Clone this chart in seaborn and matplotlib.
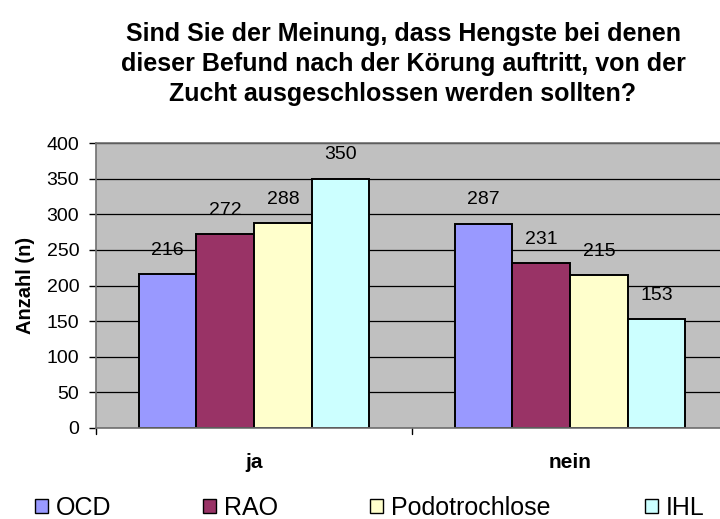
"""
Balkendiagramm: Ausschluss von Hengsten nach Befund (ja / nein).
"""

import matplotlib
matplotlib.use('Agg')
import matplotlib.pyplot as plt
import pandas as pd
import seaborn as sns

ANSWERS = ['ja', 'nein']
FINDINGS = ['OCD', 'RAO', 'Podotrochlose', 'IHL']
VALUES_JA = [216, 272, 288, 350]
VALUES_NEIN = [287, 231, 215, 153]
COLORS = ['#9999FF', '#993366', '#FFFFCC', '#CCFFFF']

TITLE = ('Sind Sie der Meinung, dass Hengste bei denen\n'
         'dieser Befund nach der Körung auftritt, von der\n'
         'Zucht ausgeschlossen werden sollten?')

W, H = 720, 519  # Pixel


def main():
    rows = []
    for finding, ja, nein in zip(FINDINGS, VALUES_JA, VALUES_NEIN):
        rows.append({'antwort': 'ja', 'befund': finding, 'anzahl': ja})
        rows.append({'antwort': 'nein', 'befund': finding, 'anzahl': nein})
    df = pd.DataFrame(rows)

    sns.set_theme(style='white')
    plt.rcParams['font.family'] = ['Liberation Sans', 'DejaVu Sans']
    plt.rcParams['text.color'] = 'black'
    plt.rcParams['axes.labelcolor'] = 'black'
    plt.rcParams['xtick.color'] = 'black'
    plt.rcParams['ytick.color'] = 'black'

    fig = plt.figure(figsize=(W / 100, H / 100), dpi=100)
    # Plotbereich ragt rechts über den Bildrand hinaus (wie im Original)
    ax = fig.add_axes([96 / W, 1 - 428 / H, 632 / W, 285 / H])
    ax.set_facecolor('#C0C0C0')

    sns.barplot(
        data=df, x='antwort', y='anzahl', hue='befund',
        order=ANSWERS, hue_order=FINDINGS, palette=COLORS,
        width=0.73, edgecolor='black', linewidth=1.4,
        saturation=1, ax=ax, legend=False,
    )

    for container in ax.containers:
        ax.bar_label(container, padding=11, fontsize=14, color='black')

    ax.set_ylim(0, 400)
    ax.set_yticks(range(0, 401, 50))
    ax.yaxis.grid(True, color='black', linewidth=0.9)
    ax.set_axisbelow(True)
    ax.set_xlim(-0.5, 1.5)

    ax.spines['right'].set_visible(False)
    for side in ['top', 'left', 'bottom']:
        ax.spines[side].set_color('#707070')
        ax.spines[side].set_linewidth(1.2)

    ax.tick_params(axis='y', labelsize=14, left=True, length=5, width=1,
                   color='black', pad=7)
    ax.set_xticks([0, 1])
    ax.set_xticklabels(ANSWERS, fontsize=15, fontweight='bold')
    ax.tick_params(axis='x', bottom=False, pad=12)
    # Trennstriche zwischen den Kategorien
    for pos in [-0.5, 0.5]:
        ax.plot([pos, pos], [0, -0.022], transform=ax.get_xaxis_transform(),
                color='black', linewidth=1, clip_on=False)

    ax.set_xlabel('')
    ax.set_ylabel('Anzahl (n)', fontsize=14.5, fontweight='bold', labelpad=8)

    fig.suptitle(TITLE, fontsize=18, fontweight='bold', y=1 - 22 / H,
                 x=403 / W, va='top', linespacing=1.32)

    # Legende: Einträge einzeln, wie im Original ungleichmäßig verteilt
    legend_x = [35, 203, 370, 645]
    for label, color, x in zip(FINDINGS, COLORS, legend_x):
        handle = plt.Rectangle((0, 0), 1, 1, facecolor=color,
                               edgecolor='black', linewidth=1)
        fig.legend([handle], [label], loc='center left',
                   bbox_to_anchor=(x / W, 1 - 508 / H), frameon=False,
                   fontsize=18, handlelength=0.52, handleheight=0.52,
                   handletextpad=0.32, borderpad=0, borderaxespad=0)

    fig.savefig('out.png', dpi=100)
    plt.close(fig)


if __name__ == '__main__':
    main()
